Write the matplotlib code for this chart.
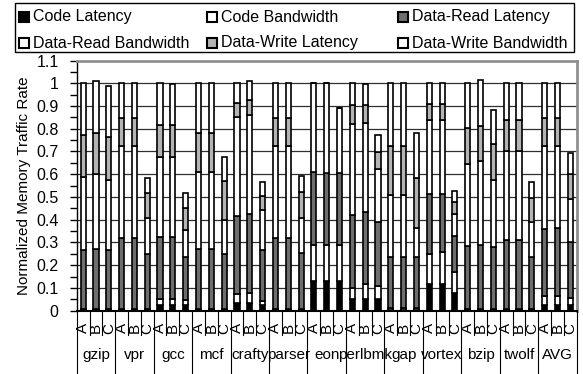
import numpy as np
import matplotlib
matplotlib.use('Agg')
import matplotlib.pyplot as plt
from matplotlib.patches import Rectangle
from matplotlib.lines import Line2D
import matplotlib.transforms as mtransforms

plt.rcParams['font.family'] = ['Liberation Sans', 'DejaVu Sans']

# benchmarks, each with configurations A, B, C
benchmarks = ['gzip', 'vpr', 'gcc', 'mcf', 'crafty', 'parser', 'eon',
              'perlbmk', 'gap', 'vortex', 'bzip', 'twolf', 'AVG']
configs = ['A', 'B', 'C']

# segment heights, 3 values (A, B, C) per benchmark
code_lat = [.005, .005, .005, .005, .005, .005, .024, .024, .024,
            .005, .005, .005, .035, .035, .024, .005, .005, .005,
            .131, .131, .131, .050, .053, .050, .005, .005, .005,
            .116, .116, .079, .005, .005, .005, .005, .005, .005,
            .024, .024, .024]
code_bw = [.003, .003, .003, .003, .003, .003, .026, .026, .023,
           .003, .003, .003, .037, .041, .019, .003, .003, .003,
           .157, .157, .157, .051, .063, .059, .005, .005, .005,
           .133, .140, .092, .003, .003, .003, .003, .003, .003,
           .041, .041, .033]
dr_lat = [.260, .263, .260, .313, .313, .243, .272, .272, .187,
          .263, .263, .241, .346, .349, .225, .313, .313, .245,
          .321, .316, .316, .320, .316, .279, .224, .224, .224,
          .264, .257, .158, .277, .280, .274, .302, .302, .230,
          .294, .297, .246]
dr_bw = [.319, .328, .308, .403, .403, .158, .353, .353, .122,
         .338, .338, .151, .433, .434, .176, .403, .403, .153,
         .391, .395, .287, .398, .393, .236, .275, .275, .128,
         .324, .324, .096, .361, .368, .294, .390, .390, .150,
         .365, .362, .188]
dw_lat = [.187, .183, .189, .125, .125, .107, .140, .140, .094,
          .173, .173, .172, .064, .066, .062, .125, .125, .115,
          0, 0, 0, .084, .078, .073, .217, .217, .220,
          .073, .073, .054, .158, .156, .158, .137, .137, .106,
          .125, .125, .110]
dw_bw = [.226, .230, .222, .151, .151, .068, .185, .183, .068,
         .218, .218, .103, .085, .087, .059, .151, .151, .070,
         0, 0, 0, .097, .093, .077, .274, .274, .200,
         .090, .090, .049, .196, .203, .147, .163, .163, .071,
         .151, .151, .092]

series = [
    ('Code Latency', code_lat, 'black'),
    ('Code Bandwidth', code_bw, 'white'),
    ('Data-Read Latency', dr_lat, '#6e6e6e'),
    ('Data-Read Bandwidth', dr_bw, 'white'),
    ('Data-Write Latency', dw_lat, '#b4b4b4'),
    ('Data-Write Bandwidth', dw_bw, 'white'),
]

W, H = 583, 374
fig = plt.figure(figsize=(W / 100, H / 100), dpi=100)
ax = fig.add_axes([0.1316, 0.1693, 0.8576, 0.6689])

x = np.arange(len(code_lat))
bottom = np.zeros(len(x))
for name, vals, col in series:
    vals = np.array(vals)
    ax.bar(x, vals, 0.4, bottom=bottom, color=col, edgecolor='black',
           linewidth=1.2, zorder=3)
    bottom += vals

ax.set_xlim(-0.5, len(x) - 0.5)
ax.set_ylim(0, 1.1)
yt = np.round(np.arange(0, 1.11, 0.1), 1)
ax.set_yticks(yt)
ax.set_yticklabels(['0' if v == 0 else ('1' if v == 1 else f'{v:g}') for v in yt], fontsize=11.5)
ax.set_yticks(np.arange(0.05, 1.1, 0.1), minor=True)
ax.tick_params(axis='y', which='both', direction='out', length=5, width=1, pad=8)
for v in yt[1:-1]:
    ax.axhline(v, color='#303030', linewidth=0.9, zorder=1)

ax.set_xticks(x)
ax.set_xticklabels(configs * len(benchmarks), rotation=90, fontsize=11)
ax.tick_params(axis='x', length=0, pad=9)

ax.set_ylabel('Normalized Memory Traffic Rate', fontsize=11, labelpad=4)

ax.spines['top'].set_color('#909090')
ax.spines['top'].set_linewidth(2)
ax.spines['right'].set_color('#909090')
ax.spines['right'].set_linewidth(2)
ax.spines['left'].set_linewidth(1)
ax.spines['bottom'].set_linewidth(1.5)

# category separators below the axis
trans = mtransforms.blended_transform_factory(ax.transData, fig.transFigure)
y_axis = 0.1693
for i in range(len(x) + 1):
    xb = i - 0.5
    y_end = 0.0 if i % 3 == 0 else 0.1043
    fig.add_artist(Line2D([xb, xb], [y_axis, y_end], transform=trans,
                          color='black', linewidth=0.8))
for g, name in enumerate(benchmarks):
    fig.text(3 * g + 1, 0.0508, name, transform=trans, ha='center',
             va='center', fontsize=11)

# legend box: three evenly spaced columns, two rows
def fx(px):
    return px / W

def fy(py):
    return 1 - py / H

fig.add_artist(Rectangle((fx(15), fy(52)), fx(559), 49 / H, transform=fig.transFigure,
                         facecolor='white', edgecolor='black', linewidth=1))
col_x = [19, 207, 398]
row_y = [17, 43]
for k, (name, vals, col) in enumerate(series):
    cx = col_x[k % 3]
    cy = row_y[k // 3]
    fig.add_artist(Rectangle((fx(cx), fy(cy + 5)), fx(10), 10 / H,
                             transform=fig.transFigure, facecolor=col,
                             edgecolor='black', linewidth=1.5))
    fig.text(fx(cx + 14), fy(cy), name, ha='left', va='center', fontsize=11.5)

fig.savefig('out.png', dpi=100)
